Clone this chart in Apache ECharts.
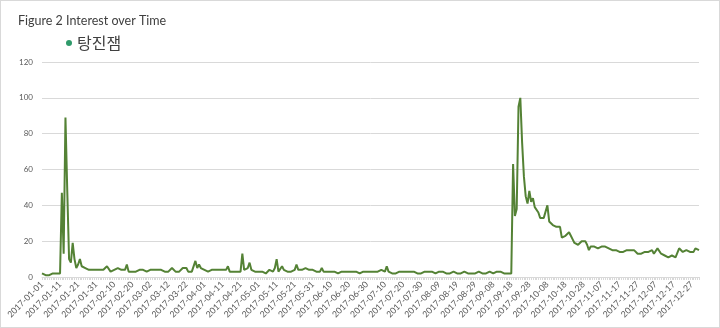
<!DOCTYPE html>
<html>
<head>
<meta charset="utf-8">
<script src="https://cdn.jsdelivr.net/npm/echarts@6/dist/echarts.min.js"></script>
<style>
html,body{margin:0;padding:0;background:#fff;}
#c{width:720px;height:328px;box-sizing:border-box;border:1px solid #d9d9d9;}
</style>
</head>
<body>
<div id="c"></div>
<script>
// ---- data ----
const seriesName = '탕진잼';
const titleText = 'Figure 2 Interest over Time';
const yTicks = [0, 20, 40, 60, 80, 100, 120];
const startDate = '2017-01-01';
const dayCount = 365;
const values = [
  2,1,1,2,1,2,2,3,2,2,2,
  47,13,89,48,10,8,19,10,5,7,10,6,
  5,5,4,4,3,4,4,4,4,4,3,4,4,
  6,5,3,4,4,3,5,4,4,3,4,7,
  3,3,3,3,3,3,4,5,4,3,3,3,
  4,3,4,3,4,5,4,3,3,3,3,4,
  5,4,3,2,3,4,5,5,5,3,3,3,3,
  9,5,7,5,6,4,3,3,3,4,4,4,3,4,4,
  4,4,4,6,3,3,3,3,3,3,3,
  13,4,3,5,8,4,3,3,4,3,
  2,3,4,2,3,4,3,3,5,10,
  3,4,6,4,4,3,3,3,3,4,7,
  4,4,4,4,5,5,4,4,4,3,3,3,3,5,
  3,3,3,2,3,2,3,3,2,3,3,2,3,2,3,
  2,3,2,3,2,2,3,3,4,3,3,3,4,3,3,3,3,4,3,3,
  6,3,3,2,3,2,3,3,4,3,2,3,3,3,2,3,2,2,2,2,
  3,3,4,3,3,3,2,2,3,3,3,3,2,2,2,2,3,3,2,2,
  2,2,2,3,3,2,2,2,2,2,3,3,3,2,2,2,2,3,4,2,
  2,3,3,3,2,2,2,2,2,2,
  63,34,38,95,100,75,56,45,41,48,42,44,39,40,36,33,33,33,33,40,
  31,30,29,30,28,29,28,22,23,23,24,25,23,21,19,19,18,19,20,21,
  20,18,15,17,16,17,16,16,15,17,16,17,16,16,15,15,14,15,14,14,
  15,14,14,15,16,15,15,15,14,13,13,13,14,14,14,14,14,15,13,12,
  16,15,13,12,12,12,11,12,12,11,11,10,16,15,14,14,15,14,14,15,14,16,15,15
];

// build date categories
const dates = [];
(function(){
  const d0 = new Date(startDate + 'T00:00:00Z');
  for (let i = 0; i < dayCount; i++) {
    const d = new Date(d0.getTime() + i * 86400000);
    dates.push(d.toISOString().slice(0, 10));
  }
})();

const chart = echarts.init(document.getElementById('c'), null, {renderer: 'canvas'});
chart.setOption({
  animation: false,
  backgroundColor: '#ffffff',
  title: {
    text: titleText,
    left: 12, top: 8,
    textStyle: {fontFamily: 'Lato, "Open Sans", sans-serif', fontSize: 12.5, fontWeight: 'normal', color: '#404040'}
  },
  legend: {
    left: 60, top: 29,
    icon: 'circle',
    itemWidth: 6, itemHeight: 6, itemGap: 5,
    data: [{name: seriesName, itemStyle: {color: '#2f9a6a'}}],
    textStyle: {fontFamily: '"Noto Sans CJK KR", sans-serif', fontSize: 16, color: '#404040'}
  },
  grid: {left: 41, right: 20, top: 61, bottom: 50, containLabel: false, outerBoundsMode: 'none'},
  xAxis: {
    type: 'category',
    data: dates,
    boundaryGap: false,
    axisLine: {lineStyle: {color: '#d9d9d9'}},
    axisTick: {show: true, interval: 0, length: 3, lineStyle: {color: '#d9d9d9'}},
    axisLabel: {
      interval: function(i){ return i % 10 === 0; },
      rotate: 45, fontSize: 8.7, color: '#595959', margin: 6,
      fontFamily: 'Lato, "Open Sans", sans-serif'
    },
    splitLine: {show: false}
  },
  yAxis: {
    type: 'value',
    min: yTicks[0], max: yTicks[yTicks.length - 1], interval: 20,
    axisLine: {show: false},
    axisTick: {show: false},
    axisLabel: {fontSize: 8, color: '#595959', margin: 9, fontFamily: 'Lato, "Open Sans", sans-serif'},
    splitLine: {lineStyle: {color: '#d9d9d9', width: 1}}
  },
  series: [{
    name: seriesName,
    type: 'line',
    data: values,
    symbol: 'none',
    smooth: false,
    lineStyle: {color: '#548235', width: 2},
    itemStyle: {color: '#548235'}
  }]
});
</script>
</body>
</html>
